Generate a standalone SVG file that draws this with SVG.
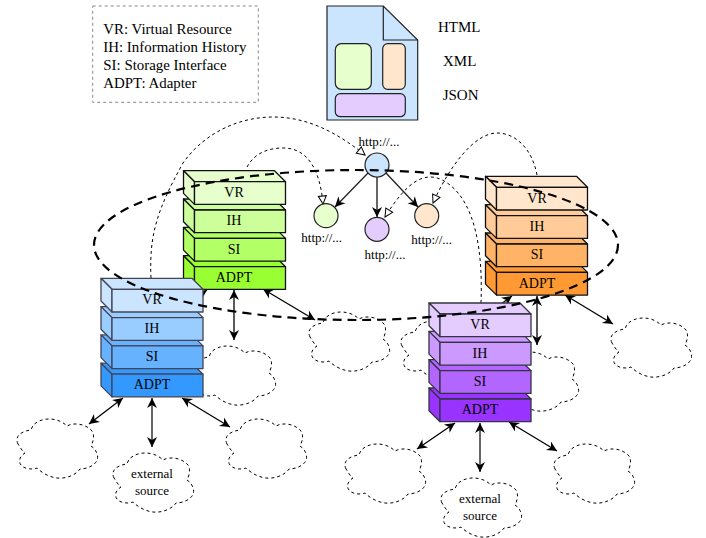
<svg xmlns="http://www.w3.org/2000/svg" xmlns:xlink="http://www.w3.org/1999/xlink" width="706" height="538" viewBox="0 0 706 538">
<style>
text{font-family:"Liberation Serif","Times New Roman",serif;fill:#000;stroke:none}
.lbl{font-size:14px;text-anchor:middle}
.leg{font-size:14.9px}
.fmt{font-size:15px}
.url{font-size:13px;text-anchor:middle}
.cl{font-size:13px;text-anchor:middle}
.cloud{fill:none;stroke:#000;stroke-width:1;stroke-dasharray:3 3}
.st{stroke:#111;stroke-width:1.3;stroke-linejoin:round}
.a{fill:none;stroke:#000;stroke-width:1.3;marker-start:url(#h);marker-end:url(#h)}
.ag{fill:none;stroke:#666;stroke-width:2;marker-start:url(#h);marker-end:url(#h)}
.t{fill:none;stroke:#222;stroke-width:1.3;marker-end:url(#h)}
.tg{fill:none;stroke:#666;stroke-width:2;marker-end:url(#h)}
.c{fill:none;stroke:#000;stroke-width:1;stroke-dasharray:3 3;marker-end:url(#o)}
.n{stroke:#222;stroke-width:1.2}
.d{stroke:#222;stroke-width:1.2}
</style>
<defs>
<marker id="h" markerUnits="userSpaceOnUse" markerWidth="11" markerHeight="11" refX="10" refY="5" orient="auto-start-reverse" overflow="visible"><path d="M10,5 L0,0 L3,5 L0,10 Z" fill="#000"/></marker>
<marker id="o" markerUnits="userSpaceOnUse" markerWidth="10" markerHeight="10" refX="8" refY="4" orient="auto" overflow="visible"><path d="M8,4 L0,0 L0,8 Z" fill="#fff" stroke="#000" stroke-width="1"/></marker>
<path id="cp" class="cloud" d="M2,25 C-2,17 6,12 15,11 C17,3 26,0 33,0 C41,0 47,3 51,7 C58,3 70,5 76,12 C79,17 77,23 75,27 C80,30 83,37 81,41 C79,47 70,50 64,50 C60,56 50,60 41,59 C33,58 26,54 21,49 C16,51 8,50 5,46 C2,42 4,37 9,34 C6,32 4,28 2,25 Z"/>
<g id="box"><path d="M-11,-11 H80 L91,0 H0 Z"/><path d="M-11,-11 L0,0 V22.7 L-11,11.7 Z"/><rect width="91" height="22.7"/></g>
</defs>

<g id="legend">
<rect x="92.7" y="6" width="165.6" height="96.3" fill="none" stroke="#888" stroke-dasharray="3 3"/>
<text class="leg" x="103.3" y="34">VR: Virtual Resource</text>
<text class="leg" x="103.3" y="52">IH: Information History</text>
<text class="leg" x="103.3" y="70">SI: Storage Interface</text>
<text class="leg" x="103.3" y="88">ADPT: Adapter</text>
</g>

<g id="document">
<path class="d" d="M327,6 H383.3 L417.7,40 V120 H327 Z" fill="#cce5ff"/>
<path class="d" d="M383.3,6 V40 H417.7" fill="none"/>
<rect class="d" x="335.3" y="43.7" width="36" height="45.6" rx="6" fill="#e6ffcc"/>
<rect class="d" x="382.7" y="43.7" width="22.6" height="45.6" rx="5" fill="#ffe6cc"/>
<rect class="d" x="335.3" y="93.7" width="70" height="23" rx="5" fill="#e5ccff"/>
<text class="fmt" x="438" y="32">HTML</text>
<text class="fmt" x="443" y="66">XML</text>
<text class="fmt" x="442.7" y="100">JSON</text>
</g>

<g id="clouds">
<use id="cloud-b1" href="#cp" x="16" y="419"/>
<g id="cloud-b2"><use href="#cp" x="112" y="453"/><text class="cl" x="152" y="478">external</text><text class="cl" x="152" y="495">source</text></g>
<use id="cloud-b3" href="#cp" x="225" y="419"/>
<use id="cloud-g1" href="#cp" x="194" y="346"/>
<use id="cloud-g2" href="#cp" x="308" y="312"/>
<use id="cloud-o1" href="#cp" x="400" y="321"/>
<use id="cloud-o2" href="#cp" x="497" y="352"/>
<use id="cloud-o3" href="#cp" x="610" y="318"/>
<use id="cloud-p1" href="#cp" x="344" y="444"/>
<g id="cloud-p2"><use href="#cp" x="440" y="478"/><text class="cl" x="480" y="503">external</text><text class="cl" x="480" y="520">source</text></g>
<use id="cloud-p3" href="#cp" x="553" y="444"/>
</g>

<g id="connectors">
<path class="a" d="M123,398 L89,424"/>
<path class="ag" d="M152,398 V447"/>
<path class="a" d="M182,398 L230,427"/>
<path class="a" d="M207,290 L188,303"/>
<path class="a" d="M234,290 V340"/>
<path class="a" d="M263,289 L315,320"/>
<path class="a" d="M512,296 L490,312"/>
<path class="a" d="M537,296 V345"/>
<path class="a" d="M565,295 L613,324"/>
<path class="a" d="M455,423 L417,449"/>
<path class="ag" d="M480,423 V472"/>
<path class="a" d="M509,422 L557,451"/>
<path class="t" d="M368,173 L335,207"/>
<path class="tg" d="M377,177 V217"/>
<path class="t" d="M386,173 L418,207"/>
<path class="c" d="M151,278 C149,235 157,210 183,163 C205,132 240,117 273,117 C310,117 340,135 365,155"/>
<path class="c" d="M247,167 C255,152 270,148 283,148 C308,148 320,170 323,204"/>
<path class="c" d="M537,175 C532,148 515,133 497,133 C475,133 450,165 433,203"/>
<path class="c" d="M481,303 C483,250 475,205 450,185 C425,165 405,185 385,217"/>
</g>

<g id="stack-green" class="st">
<use href="#box" x="194.5" y="266.7" fill="#99ff33"/>
<use href="#box" x="194.5" y="238.4" fill="#b3ff66"/>
<use href="#box" x="194.5" y="210" fill="#ccff99"/>
<use href="#box" x="194.5" y="181.7" fill="#e6ffcc"/>
<text class="lbl" x="234" y="197">VR</text><text class="lbl" x="234" y="225">IH</text><text class="lbl" x="234" y="254">SI</text><text class="lbl" x="234" y="282">ADPT</text>
</g>
<g id="stack-orange" class="st">
<use href="#box" x="496.5" y="272.4" fill="#ff9933"/>
<use href="#box" x="496.5" y="244" fill="#ffb366"/>
<use href="#box" x="496.5" y="215.7" fill="#ffcc99"/>
<use href="#box" x="496.5" y="187.3" fill="#ffe6cc"/>
<text class="lbl" x="537" y="203">VR</text><text class="lbl" x="537" y="231">IH</text><text class="lbl" x="537" y="259">SI</text><text class="lbl" x="537" y="288">ADPT</text>
</g>
<g id="stack-blue" class="st" style="stroke:#445">
<use href="#box" x="112" y="374.2" fill="#3399ff"/>
<use href="#box" x="112" y="345.9" fill="#66b2ff"/>
<use href="#box" x="112" y="317.6" fill="#99ccff"/>
<use href="#box" x="112" y="289.3" fill="#cce5ff"/>
<text class="lbl" x="152" y="304">VR</text><text class="lbl" x="152" y="333">IH</text><text class="lbl" x="152" y="361">SI</text><text class="lbl" x="152" y="389">ADPT</text>
</g>
<g id="stack-purple" class="st" style="stroke:#334">
<use href="#box" x="440" y="399" fill="#9933ff"/>
<use href="#box" x="440" y="370.7" fill="#b266ff"/>
<use href="#box" x="440" y="342.4" fill="#cc99ff"/>
<use href="#box" x="440" y="314" fill="#e5ccff"/>
<text class="lbl" x="480" y="329">VR</text><text class="lbl" x="480" y="358">IH</text><text class="lbl" x="480" y="386">SI</text><text class="lbl" x="480" y="414">ADPT</text>
</g>

<g id="tree-root"><circle class="n" cx="377" cy="165" r="12" fill="#cce5ff"/><text class="url" x="379" y="146">http://...</text></g>
<g id="tree-green"><circle class="n" cx="326" cy="215.7" r="12" fill="#e6ffcc"/><text class="url" x="321.7" y="242">http://...</text></g>
<g id="tree-purple"><circle class="n" cx="377" cy="229.3" r="12" fill="#e5ccff"/><text class="url" x="385" y="259">http://...</text></g>
<g id="tree-orange"><circle class="n" cx="426.7" cy="215.7" r="12" fill="#ffe6cc"/><text class="url" x="431.7" y="244">http://...</text></g>

<ellipse id="boundary" cx="356" cy="245" rx="262" ry="75" fill="none" stroke="#000" stroke-width="2.2" stroke-dasharray="9 6"/>
</svg>
